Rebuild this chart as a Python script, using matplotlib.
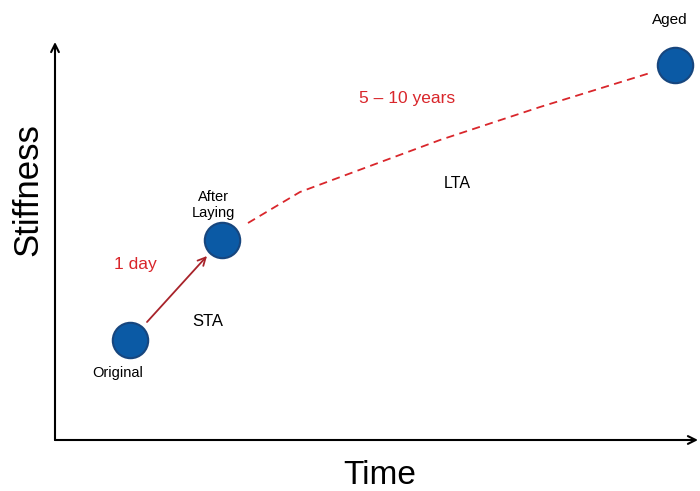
import matplotlib
matplotlib.use("Agg")
import matplotlib.pyplot as plt

plt.rcParams['font.family'] = ['Liberation Sans', 'DejaVu Sans']

# Data (x = time units, y = stiffness units; origin at axes corner)
stage_names = ["Original", "After\nLaying", "Aged"]
stage_x = [75, 167, 620]
stage_y = [100, 200, 375]

# Long term ageing (dashed) path
lta_x = [193, 245, 385, 485, 595]
lta_y = [217, 248, 300, 333, 367]

# Short term ageing arrow
sta_start = (92, 118)
sta_end = (152, 184)

fig = plt.figure(figsize=(7.0, 4.91), dpi=100)
ax = fig.add_axes([0, 0, 1, 1])
ax.set_xlim(-55, 645)
ax.set_ylim(-51, 440)
ax.axis('off')

# Axes with arrows
ax.annotate("", xy=(0, 398), xytext=(0, 0),
            arrowprops=dict(arrowstyle="->", color="black", lw=1.5,
                            mutation_scale=14, shrinkA=0, shrinkB=0))
ax.annotate("", xy=(643, 0), xytext=(0, 0),
            arrowprops=dict(arrowstyle="->", color="black", lw=1.5,
                            mutation_scale=14, shrinkA=0, shrinkB=0))

# Dashed LTA line
ax.plot(lta_x, lta_y, linestyle=(0, (4.5, 3)), color="#d9262b", lw=1.3)

# STA arrow
ax.annotate("", xy=sta_end, xytext=sta_start,
            arrowprops=dict(arrowstyle="->", color="#a8232a", lw=1.3,
                            mutation_scale=14, shrinkA=0, shrinkB=0))

# Points
ax.plot(stage_x, stage_y, linestyle="none", marker="o", markersize=25.5,
        markerfacecolor="#0b5aa5", markeredgecolor="#17467e", markeredgewidth=1.5,
        zorder=5)

# Point labels
ax.text(63, 67, stage_names[0], ha="center", va="center", fontsize=10.5)
ax.text(158, 235, stage_names[1], ha="center", va="center", fontsize=10.5,
        linespacing=1.1)
ax.text(615, 420, stage_names[2], ha="center", va="center", fontsize=11)

# Annotations
ax.text(80, 175, "1 day", ha="center", va="center", fontsize=12.5, color="#d9262b")
ax.text(153, 118, "STA", ha="center", va="center", fontsize=12)
ax.text(402, 257, "LTA", ha="center", va="center", fontsize=11.5)
ax.text(352, 342, "5 – 10 years", ha="center", va="center", fontsize=12.5,
        color="#d9262b")

# Axis titles
ax.text(-27, 250, "Stiffness", rotation=90, ha="center", va="center", fontsize=25)
ax.text(325, -35, "Time", ha="center", va="center", fontsize=24)

fig.savefig("out.png", dpi=100)
